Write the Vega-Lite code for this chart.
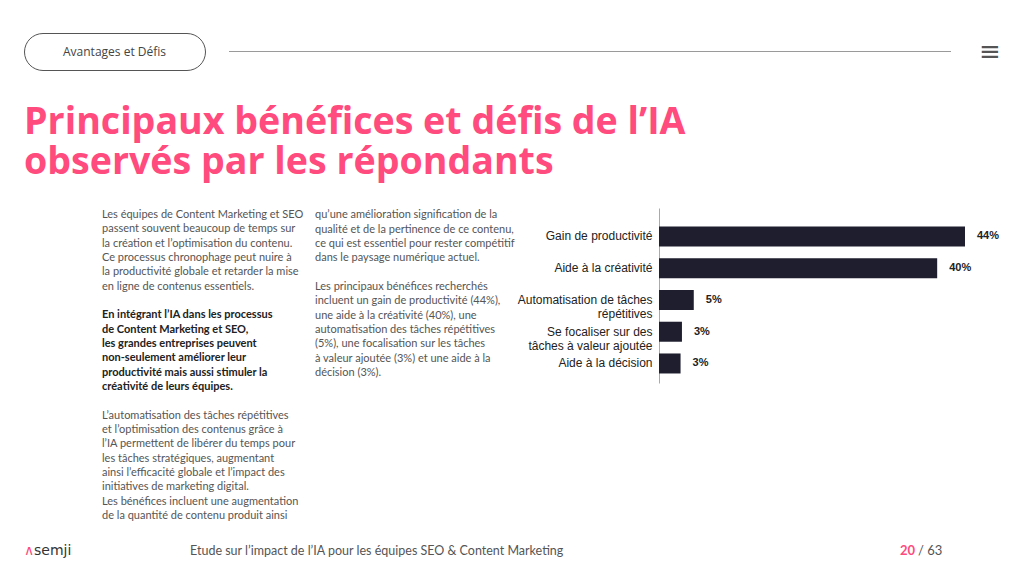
{
  "$schema": "https://vega.github.io/schema/vega-lite/v6.json",
  "background": "white",
  "padding": {"left": 23, "top": 32, "right": 0, "bottom": 0},
  "spacing": 16,
  "config": {"view": {"stroke": null}, "font": "Lato"},
  "datasets": {
    "rubrique": [{"rubrique": "Avantages et Défis"}],
    "titre": [
      {"bloc": "titre", "ligne": 0, "texte": "Principaux bénéfices et défis de l’IA"},
      {"bloc": "titre", "ligne": 1, "texte": "observés par les répondants"}
    ],
    "colonne1": [
      {"bloc": "c1", "ligne": 0, "para": 1, "texte": "Les équipes de Content Marketing et SEO"},
      {"bloc": "c1", "ligne": 1, "para": 1, "texte": "passent souvent beaucoup de temps sur"},
      {"bloc": "c1", "ligne": 2, "para": 1, "texte": "la création et l’optimisation du contenu."},
      {"bloc": "c1", "ligne": 3, "para": 1, "texte": "Ce processus chronophage peut nuire à"},
      {"bloc": "c1", "ligne": 4, "para": 1, "texte": "la productivité globale et retarder la mise"},
      {"bloc": "c1", "ligne": 5, "para": 1, "texte": "en ligne de contenus essentiels."},
      {"bloc": "c1", "ligne": 7, "para": 2, "texte": "En intégrant l’IA dans les processus"},
      {"bloc": "c1", "ligne": 8, "para": 2, "texte": "de Content Marketing et SEO,"},
      {"bloc": "c1", "ligne": 9, "para": 2, "texte": "les grandes entreprises peuvent"},
      {"bloc": "c1", "ligne": 10, "para": 2, "texte": "non-seulement améliorer leur"},
      {"bloc": "c1", "ligne": 11, "para": 2, "texte": "productivité mais aussi stimuler la"},
      {"bloc": "c1", "ligne": 12, "para": 2, "texte": "créativité de leurs équipes."},
      {"bloc": "c1", "ligne": 14, "para": 3, "texte": "L’automatisation des tâches répétitives"},
      {"bloc": "c1", "ligne": 15, "para": 3, "texte": "et l’optimisation des contenus grâce à"},
      {"bloc": "c1", "ligne": 16, "para": 3, "texte": "l’IA permettent de libérer du temps pour"},
      {"bloc": "c1", "ligne": 17, "para": 3, "texte": "les tâches stratégiques, augmentant"},
      {"bloc": "c1", "ligne": 18, "para": 3, "texte": "ainsi l’efficacité globale et l’impact des"},
      {"bloc": "c1", "ligne": 19, "para": 3, "texte": "initiatives de marketing digital."},
      {"bloc": "c1", "ligne": 20, "para": 3, "texte": "Les bénéfices incluent une augmentation"},
      {"bloc": "c1", "ligne": 21, "para": 3, "texte": "de la quantité de contenu produit ainsi"}
    ],
    "colonne2": [
      {"bloc": "c2", "ligne": 0, "texte": "qu’une amélioration signification de la"},
      {"bloc": "c2", "ligne": 1, "texte": "qualité et de la pertinence de ce contenu,"},
      {"bloc": "c2", "ligne": 2, "texte": "ce qui est essentiel pour rester compétitif"},
      {"bloc": "c2", "ligne": 3, "texte": "dans le paysage numérique actuel."},
      {"bloc": "c2", "ligne": 5, "texte": "Les principaux bénéfices recherchés"},
      {"bloc": "c2", "ligne": 6, "texte": "incluent un gain de productivité (44%),"},
      {"bloc": "c2", "ligne": 7, "texte": "une aide à la créativité (40%), une"},
      {"bloc": "c2", "ligne": 8, "texte": "automatisation des tâches répétitives"},
      {"bloc": "c2", "ligne": 9, "texte": "(5%), une focalisation sur les tâches"},
      {"bloc": "c2", "ligne": 10, "texte": "à valeur ajoutée (3%) et une aide à la"},
      {"bloc": "c2", "ligne": 11, "texte": "décision (3%)."}
    ],
    "benefices": [
      {"benefice": "Gain de productivité", "part": 0.44},
      {"benefice": "Aide à la créativité", "part": 0.40},
      {"benefice": "Automatisation de tâches répétitives", "part": 0.05},
      {"benefice": "Se focaliser sur des tâches à valeur ajoutée", "part": 0.033},
      {"benefice": "Aide à la décision", "part": 0.031}
    ],
    "logo": [
      {"part": "symbole", "t": "∧"},
      {"part": "nom", "t": "semji"}
    ],
    "etude": [{"bloc": "pied", "t": "Etude sur l’impact de l’IA pour les équipes SEO & Content Marketing"}],
    "pagination": [
      {"part": "page", "t": "20"},
      {"part": "total", "t": "/ 63"}
    ]
  },
  "vconcat": [
    {
      "bounds": "flush",
      "spacing": 24,
      "hconcat": [
        {
          "data": {"name": "rubrique"},
          "width": 181,
          "height": 37,
          "view": {"stroke": "#555555", "strokeWidth": 1, "cornerRadius": 18.5},
          "mark": {"type": "text", "font": "Open Sans", "fontSize": 12, "color": "#444444"},
          "encoding": {"text": {"field": "rubrique"}}
        },
        {
          "data": {"name": "rubrique"},
          "width": 722,
          "height": 37,
          "mark": {"type": "rule", "color": "#9a9a9a", "strokeWidth": 1},
          "encoding": {"y": {"field": "rubrique", "type": "nominal", "axis": null}}
        },
        {
          "data": {"name": "rubrique"},
          "width": 30,
          "height": 37,
          "mark": {"type": "text", "text": "≡", "font": "DejaVu Sans", "fontSize": 26, "color": "#555555"},
          "encoding": {}
        }
      ]
    },
    {
      "data": {"name": "titre"},
      "width": 700,
      "height": 105,
      "mark": {"type": "text", "align": "left", "baseline": "middle", "font": "Open Sans", "fontWeight": "bold", "fontSize": 37.6, "color": "#ff4b7d"},
      "encoding": {
        "x": {"field": "bloc", "type": "nominal", "axis": null, "scale": {"type": "point", "padding": 0, "align": 0}},
        "y": {"field": "ligne", "type": "ordinal", "axis": null, "scale": {"type": "point", "padding": 0.8125, "align": 0.554}},
        "text": {"field": "texte"}
      }
    },
    {
      "bounds": "flush",
      "spacing": 24,
      "resolve": {"scale": {"x": "independent", "y": "independent"}},
      "hconcat": [
        {"data": {"values": []}, "mark": "text", "width": 54, "height": 10},
        {
          "data": {"name": "colonne1"},
          "width": 189,
          "height": 315.3,
          "encoding": {
            "x": {"field": "bloc", "type": "nominal", "axis": null, "scale": {"type": "point", "padding": 0, "align": 0}},
            "y": {"field": "ligne", "type": "ordinal", "axis": null, "scale": {"type": "point", "padding": 0.5, "domain": [0,1,2,3,4,5,6,7,8,9,10,11,12,13,14,15,16,17,18,19,20,21]}},
            "text": {"field": "texte"}
          },
          "layer": [
            {
              "transform": [{"filter": "datum.para != 2"}],
              "mark": {"type": "text", "align": "left", "baseline": "middle", "font": "Lato", "fontSize": 11, "color": "#555555"}
            },
            {
              "transform": [{"filter": "datum.para == 2"}],
              "mark": {"type": "text", "align": "left", "baseline": "middle", "font": "Lato", "fontWeight": "bold", "fontSize": 11, "color": "#222222"}
            }
          ]
        },
        {
          "data": {"name": "colonne2"},
          "width": 320,
          "height": 172,
          "mark": {"type": "text", "align": "left", "baseline": "middle", "font": "Lato", "fontSize": 11, "color": "#555555"},
          "encoding": {
            "x": {"field": "bloc", "type": "nominal", "axis": null, "scale": {"type": "point", "padding": 0, "align": 0}},
            "y": {"field": "ligne", "type": "ordinal", "axis": null, "scale": {"type": "point", "padding": 0.5, "domain": [0,1,2,3,4,5,6,7,8,9,10,11]}},
            "text": {"field": "texte"}
          }
        },
        {
          "data": {"name": "benefices"},
          "width": 306,
          "height": 175,
          "encoding": {
            "y": {
              "field": "benefice",
              "type": "nominal",
              "sort": null,
              "scale": {"paddingInner": 0.37, "paddingOuter": 0.441, "align": 0.66},
              "axis": {
                "title": null,
                "ticks": false,
                "domainColor": "#aaaaaa",
                "labelFont": "Liberation Sans",
                "labelFontSize": 12,
                "labelColor": "#222222",
                "labelPadding": 7,
                "labelLimit": 300,
                "labelLineHeight": 14.5,
                "labelExpr": "datum.value == 'Automatisation de tâches répétitives' ? ['Automatisation de tâches', 'répétitives'] : datum.value == 'Se focaliser sur des tâches à valeur ajoutée' ? ['Se focaliser sur des', 'tâches à valeur ajoutée'] : datum.value"
              }
            },
            "x": {"field": "part", "type": "quantitative", "axis": null, "scale": {"domain": [0, 0.44], "nice": false}}
          },
          "layer": [
            {"mark": {"type": "bar", "color": "#1e1e2f"}},
            {
              "mark": {"type": "text", "align": "left", "baseline": "middle", "dx": 12, "font": "Liberation Sans", "fontWeight": "bold", "fontSize": 11, "color": "#222222"},
              "encoding": {"text": {"field": "part", "type": "quantitative", "format": ".0%"}}
            }
          ]
        }
      ]
    },
    {
      "bounds": "flush",
      "spacing": 24,
      "resolve": {"scale": {"x": "independent", "color": "independent"}},
      "hconcat": [
        {
          "data": {"name": "logo"},
          "width": 10,
          "height": 21.4,
          "mark": {"type": "text", "align": "left", "baseline": "middle", "font": "DejaVu Sans", "fontSize": 14},
          "encoding": {
            "x": {"field": "part", "type": "nominal", "axis": null, "sort": ["symbole", "nom"], "scale": {"type": "point", "padding": 0}},
            "text": {"field": "t"},
            "color": {"condition": {"test": "datum.part == 'symbole'", "value": "#ff4b7d"}, "value": "#333333"}
          }
        },
        {"data": {"values": []}, "mark": "text", "width": 108, "height": 21.4},
        {
          "data": {"name": "etude"},
          "width": 686,
          "height": 21.4,
          "mark": {"type": "text", "align": "left", "baseline": "middle", "font": "Lato", "fontSize": 12.5, "color": "#555555"},
          "encoding": {
            "x": {"field": "bloc", "type": "nominal", "axis": null, "scale": {"type": "point", "padding": 0, "align": 0}},
            "text": {"field": "t"}
          }
        },
        {
          "data": {"name": "pagination"},
          "width": 18,
          "height": 21.4,
          "encoding": {
            "x": {"field": "part", "type": "nominal", "axis": null, "scale": {"type": "point", "padding": 0}},
            "text": {"field": "t"}
          },
          "layer": [
            {
              "transform": [{"filter": "datum.part == 'page'"}],
              "mark": {"type": "text", "align": "left", "baseline": "middle", "font": "Lato", "fontWeight": "bold", "fontSize": 13, "color": "#ff4b7d"}
            },
            {
              "transform": [{"filter": "datum.part == 'total'"}],
              "mark": {"type": "text", "align": "left", "baseline": "middle", "font": "Lato", "fontSize": 13, "color": "#555555"}
            }
          ]
        }
      ]
    }
  ]
}
